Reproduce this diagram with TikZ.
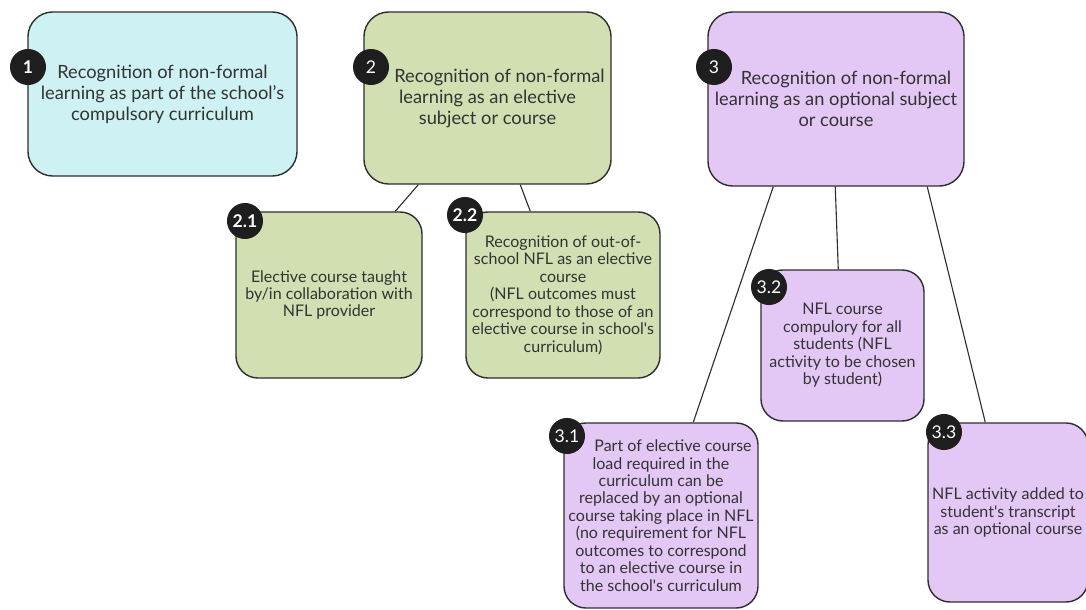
\documentclass[tikz,border=0pt]{standalone}
\usepackage{fontspec}
\setmainfont{Lato}
\usetikzlibrary{calc}

\definecolor{boxline}{HTML}{2E2E2E}
\definecolor{txtgray}{HTML}{333333}
\definecolor{cyanfill}{HTML}{CEF1F3}
\definecolor{greenfill}{HTML}{D1DFB2}
\definecolor{lilacfill}{HTML}{E3C7F5}
\definecolor{badgefill}{HTML}{1E1E1E}

\tikzset{
  topbox/.style={draw=boxline, line width=1pt, rounded corners=0.62cm, align=center,
    text=txtgray, inner sep=0pt, font=\fontsize{13}{14.9}\selectfont},
  subbox/.style={draw=boxline, line width=1pt, rounded corners=0.55cm, align=center,
    text=txtgray, inner sep=0pt, font=\fontsize{11.4}{12.4}\selectfont},
  badge/.style={circle, fill=badgefill, text=white, minimum size=0.9cm, inner sep=0pt,
    font=\fontsize{12.5}{14}\selectfont},
  link/.style={draw=boxline, line width=0.8pt}
}

\begin{document}
\begin{tikzpicture}[x=0.025cm, y=-0.025cm]
  \useasboundingbox (0, 0) rectangle (1086, 610);

  % top level
  \node[topbox, fill=cyanfill, minimum width=6.725cm, minimum height=4.1cm] (b1) at (162.5, 94)
    {Recognition of non-formal\\learning as part of the school's\\compulsory curriculum};
  \node[topbox, fill=greenfill, minimum width=6.175cm, minimum height=4.3cm] (b2) at (487.5, 98)
    {\hspace{0.6cm}Recognition of non-formal\\learning as an elective\\subject or course};
  \node[topbox, fill=lilacfill, minimum width=6.4cm, minimum height=4.35cm] (b3) at (836, 99)
    {\hspace{0.5cm}Recognition of non-formal\\learning as an optional subject\\or course};

  % second level
  \node[subbox, fill=greenfill, minimum width=4.65cm, minimum height=4.15cm] (b21) at (329, 295)
    {Elective course taught\\by/in collaboration with\\NFL provider};
  \node[subbox, fill=greenfill, minimum width=4.85cm, minimum height=4.15cm] (b22) at (563, 295)
    {Recognition of out-of-\\school NFL as an elective\\course\\(NFL outcomes must\\correspond to those of an\\elective course in school\textquotesingle s\\curriculum)};
  \node[subbox, fill=lilacfill, minimum width=4.85cm, minimum height=4.625cm] (b31) at (661, 515.5)
    {\hspace{0.6cm}Part of elective course\\load required in the\\curriculum can be\\replaced by an optional\\course taking place in NFL\\(no requirement for NFL\\outcomes to correspond\\to an elective course in\\the school\textquotesingle s curriculum};
  \node[subbox, fill=lilacfill, minimum width=4.075cm, minimum height=3.775cm] (b32) at (842.5, 345.5)
    {NFL course\\compulory for all\\students (NFL\\activity to be chosen\\by student)};
  \node[subbox, fill=lilacfill, minimum width=4cm, minimum height=4.475cm] (b33) at (1008, 512.5)
    {NFL activity added to\\student\textquotesingle s transcript\\as an optional course};

  % connectors
  \draw[link] ($(b2.south west)+(55,0)$) -- ($(b21.north west)+(160,0)$);
  \draw[link] ($(b2.south west)+(157,0)$) -- ($(b22.north west)+(65,0)$);
  \draw[link] ($(b3.south west)+(66,0)$) -- ($(b31.north west)+(130,0)$);
  \draw[link] ($(b3.south west)+(128,0)$) -- ($(b32.north west)+(78,0)$);
  \draw[link] ($(b3.south west)+(220,0)$) -- ($(b33.north west)+(58,0)$);

  % number badges
  \node[badge] (n1) at (28, 67) {\textbf{1}};
  \node[badge] (n2) at (371, 67) {2};
  \node[badge] (n3) at (714, 67) {3};
  \node[badge] (n21) at (245, 221) {\textbf{2.1}};
  \node[badge] (n22) at (465, 215) {\textbf{2.2}};
  \node[badge] (n31) at (567, 436) {3.1};
  \node[badge] (n32) at (769, 287) {3.2};
  \node[badge] (n33) at (944, 432) {3.3};

\end{tikzpicture}
\end{document}
